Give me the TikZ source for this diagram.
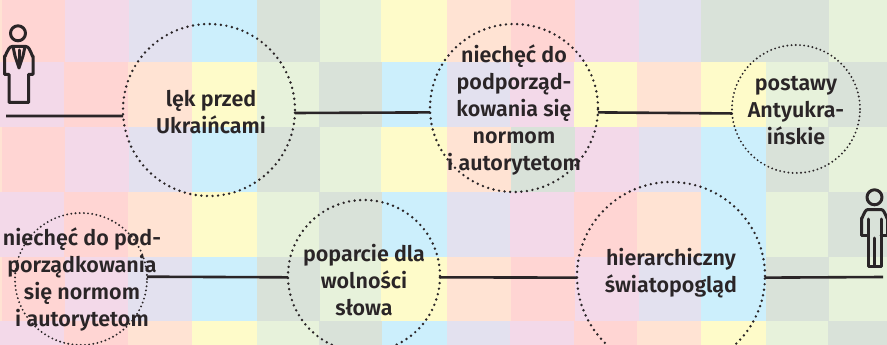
\documentclass[tikz,border=0pt]{standalone}
\usepackage{fontspec}
\setmainfont{Fira Sans}[BoldFont={Fira Sans SemiBold}]
\usetikzlibrary{positioning}

\definecolor{czerw}{HTML}{FFD5D3}
\definecolor{roz}{HTML}{F3D9E9}
\definecolor{lawenda}{HTML}{E3E1EF}
\definecolor{blekit}{HTML}{CCEFFC}
\definecolor{szary}{HTML}{D9E2D9}
\definecolor{ziel}{HTML}{E7F2DB}
\definecolor{zolty}{HTML}{FEFBC9}
\definecolor{brzoskw}{HTML}{FFE3D3}
\definecolor{ciemny}{HTML}{2A2527}

\tikzset{
    kolo/.style={circle,draw=ciemny,line width=2.7pt,dash pattern=on 0pt off 5.6pt,line cap=round,outer sep=0pt,inner sep=0pt},
    kolko/.style={kolo,line width=2.1pt,dash pattern=on 0pt off 4.2pt},
    tekst/.style={align=center,text=ciemny,font=\fontsize{21.5}{27}\selectfont\bfseries},
    linia/.style={draw=ciemny,line width=2.6pt},
    ikona/.style={draw=ciemny,line width=3pt,line join=round,line cap=round}
}

\begin{document}
\begin{tikzpicture}[x=1pt,y=-1pt,on grid]
    \useasboundingbox (0,0) rectangle (887,345);
    % tlo
    \foreach \xa/\xb/\ya/\yb/\k in {
        0/2/0/62/brzoskw,2/65/0/62/czerw,65/129/0/62/roz,129/192/0/62/lawenda,192/257/0/62/blekit,257/320/0/62/szary,320/381/0/62/ziel,381/447/0/62/zolty,447/511/0/62/brzoskw,511/575/0/62/czerw,575/639/0/62/roz,639/701/0/62/lawenda,701/829/0/62/szary,829/887/0/62/ziel,
        0/64/62/127/roz,64/128/62/127/czerw,128/192/62/127/brzoskw,192/257/62/127/zolty,257/319/62/127/ziel,319/382/62/127/szary,382/447/62/127/blekit,447/510/62/127/lawenda,510/574/62/127/roz,574/637/62/127/zolty,637/701/62/127/brzoskw,701/766/62/127/zolty,766/828/62/127/ziel,828/887/62/127/szary,
        0/2/127/192/brzoskw,2/65/127/192/czerw,65/129/127/192/roz,129/192/127/192/lawenda,192/257/127/192/blekit,257/320/127/192/szary,320/381/127/192/ziel,381/447/127/192/zolty,447/511/127/192/brzoskw,511/575/127/192/szary,575/639/127/192/roz,639/701/127/192/lawenda,701/766/127/192/blekit,766/829/127/192/szary,829/887/127/192/ziel,
        0/64/192/257/roz,64/128/192/257/czerw,128/192/192/257/brzoskw,192/257/192/257/zolty,257/319/192/257/ziel,319/382/192/257/szary,382/447/192/257/blekit,447/510/192/257/lawenda,510/574/192/257/roz,574/637/192/257/czerw,637/701/192/257/brzoskw,701/766/192/257/blekit,766/828/192/257/ziel,828/887/192/257/szary,
        0/2/257/321/brzoskw,2/65/257/321/czerw,65/128/257/321/roz,128/192/257/321/lawenda,192/257/257/321/blekit,257/320/257/321/szary,320/381/257/321/ziel,381/447/257/321/zolty,447/511/257/321/brzoskw,511/575/257/321/czerw,575/639/257/321/roz,639/701/257/321/lawenda,701/766/257/321/blekit,766/829/257/321/szary,829/887/257/321/ziel,
        0/64/321/345/roz,64/128/321/345/czerw,128/192/321/345/brzoskw,192/257/321/345/zolty,257/319/321/345/ziel,319/382/321/345/szary,382/447/321/345/blekit,447/510/321/345/lawenda,510/574/321/345/roz,574/637/321/345/czerw,637/701/321/345/brzoskw,701/766/321/345/zolty,766/828/321/345/ziel,828/887/321/345/szary}
        \fill[\k] (\xa,\ya) rectangle (\xb,\yb);

    % kola
    \node[kolo,minimum size=172pt] (lek) at (209,110) {};
    \node[kolo,minimum size=168pt,right=305pt of lek,yshift=2pt] (niechec) {};
    \node[kolko,minimum size=128pt,right=282pt of niechec,yshift=-1pt] (postawy) {};
    \node[kolko,minimum size=132pt] (niechecB) at (81,279) {};
    \node[kolo,minimum size=152pt,right=283pt of niechecB,yshift=3pt] (poparcie) {};
    \node[kolo,minimum size=188pt,right=307pt of poparcie] (hierarchia) {};

    % teksty
    \node[tekst] (tlek) at (211,112) {lęk przed\\Ukraińcami};
    \node[tekst] (tniechec) at (514,110) {niechęć do\\podporząd-\\kowania się\\normom\\i autorytetom};
    \node[tekst] (tpostawy) at (796,111) {postawy\\Antyukra-\\ińskie};
    \node[tekst] (tniechecB) at (82,279) {niechęć do pod-\\porządkowania\\się normom\\i autorytetom};
    \node[tekst] (tpoparcie) at (364,280) {poparcie dla\\wolności\\słowa};
    \node[tekst] (thierarchia) at (671,273) {hierarchiczny\\światopogląd};

    % ludzie
    \coordinate (kobieta) at (6,116);
    \coordinate (mezczyzna) at (883,277);
    \draw[ikona] (18,33.3) circle (7.5);
    \draw[ikona] (9,74.5) -- (4.5,74.5) -- (4.5,56) to[out=-90,in=180] (12,46.5) -- (26,46.5) to[out=0,in=-90] (33,56) -- (33,74.5) -- (28.5,74.5) -- (28.5,102.5) -- (9,102.5) -- cycle;
    \draw[ikona] (13,46.5) -- (15,56) -- (19,68) -- (23,56) -- (25,46.5);
    \draw[ikona] (19,50) -- (19,64);
    \draw[ikona] (874.5,197.3) circle (7.5);
    \draw[ikona] (861.5,235) -- (861.5,218) to[out=-90,in=180] (868,209.5) -- (881,209.5) to[out=0,in=-90] (887.5,218) -- (887.5,235);
    \draw[ikona] (868,219) -- (868,266) -- (881,266) -- (881,219);
    \draw[ikona] (874.5,238) -- (874.5,266);
    \draw[ikona] (861.5,235) -- (868,235);
    \draw[ikona] (881,235) -- (887.5,235);

    \draw[linia] (kobieta) -- (lek.184);
    \draw[linia] (lek.358) -- (niechec.183);
    \draw[linia] (niechec.357) -- (postawy.184);
    \draw[linia] (niechecB.2) -- (poparcie.181);
    \draw[linia] (poparcie.359) -- (hierarchia.181);
    \draw[linia] (hierarchia.359.4) -- (mezczyzna);
\end{tikzpicture}
\end{document}
